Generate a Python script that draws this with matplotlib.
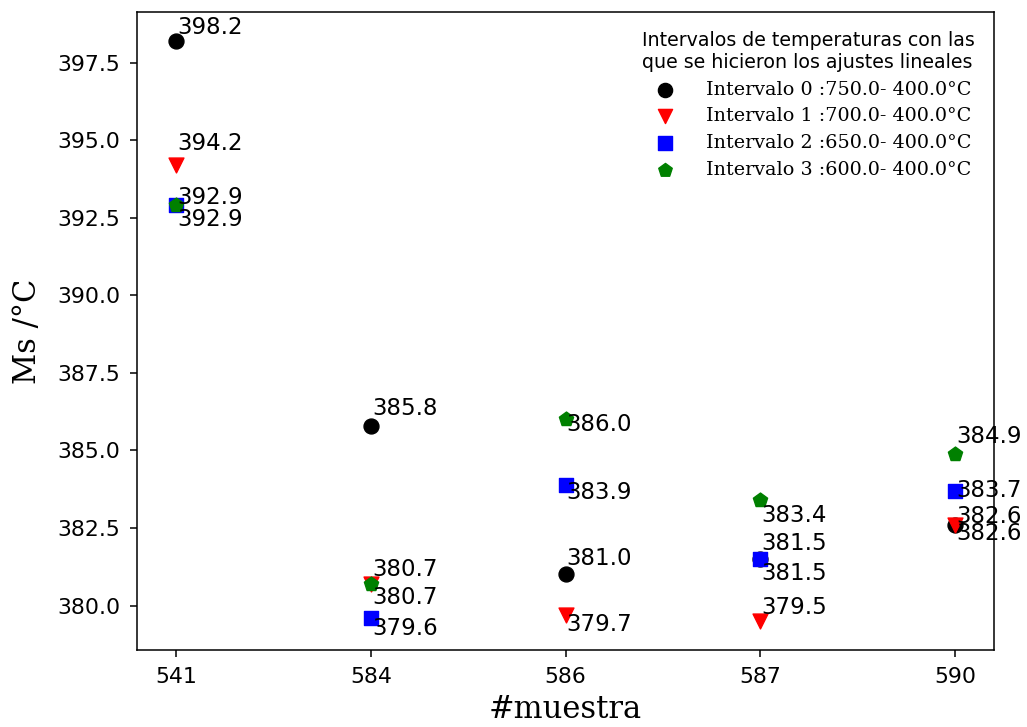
import matplotlib
matplotlib.use("Agg")
import matplotlib.pyplot as plt

# ---------------- Data ----------------
muestras = ["541", "584", "586", "587", "590"]
ms_int0 = [398.2, 385.8, 381.0, 381.5, 382.6]
ms_int1 = [394.2, 380.7, 379.7, 379.5, 382.6]
ms_int2 = [392.9, 379.6, 383.9, 381.5, 383.7]
ms_int3 = [392.9, 380.7, 386.0, 383.4, 384.9]
intervalos = ["Intervalo 0 :750.0- 400.0°C", "Intervalo 1 :700.0- 400.0°C",
              "Intervalo 2 :650.0- 400.0°C", "Intervalo 3 :600.0- 400.0°C"]

# label offsets (pixels) per series, per sample
OFFS = [
    [(1, 13), (2, 17), (1, 16), (1, -15), (1, -9)],
    [(1, 22), (2, 14), (1, -10), (1, 14), (1, 8)],
    [(1, 8), (2, -11), (1, -8), (1, 15), (1, 0)],
    [(1, -14), (2, -14), (1, -5), (1, -15), (1, 17)],
]
STYLE = [("o", "black"), ("v", "red"), ("s", "blue"), ("p", "green")]

fig = plt.figure(figsize=(10.27, 7.27), dpi=100)
ax = fig.add_axes([0.1334, 0.1059, 0.8346, 0.8776])

series = [ms_int0, ms_int1, ms_int2, ms_int3]
xs = list(range(len(muestras)))
for vals, (mk, col), lab, offs in zip(series, STYLE, intervalos, OFFS):
    ax.scatter(xs, vals, marker=mk, color=col, s=115, label=lab, zorder=3)
    for x, v, o in zip(xs, vals, offs):
        ax.annotate(f"{v:.1f}", (x, v), xytext=o, textcoords="offset pixels",
                    ha="left", va="center", fontsize=16.5, zorder=4)

ax.set_xticks(xs)
ax.set_xticklabels(muestras)
ax.tick_params(labelsize=15.8, length=5, width=1.1, pad=7)
for s in ax.spines.values():
    s.set_linewidth(1.1)
ax.set_xlabel("#muestra", family="DejaVu Serif", fontsize=22, labelpad=5)
ax.set_ylabel("Ms /°C", family="DejaVu Serif", fontsize=22, labelpad=10)

leg = ax.legend(loc="upper right", frameon=False, markerscale=0.95,
                handletextpad=1.1, labelspacing=0.45, borderaxespad=0.6,
                title="Intervalos de temperaturas con las\nque se hicieron los ajustes lineales",
                prop={"family": "DejaVu Serif", "size": 13.8}, title_fontsize=13.7)

fig.savefig("out.png", dpi=100)
